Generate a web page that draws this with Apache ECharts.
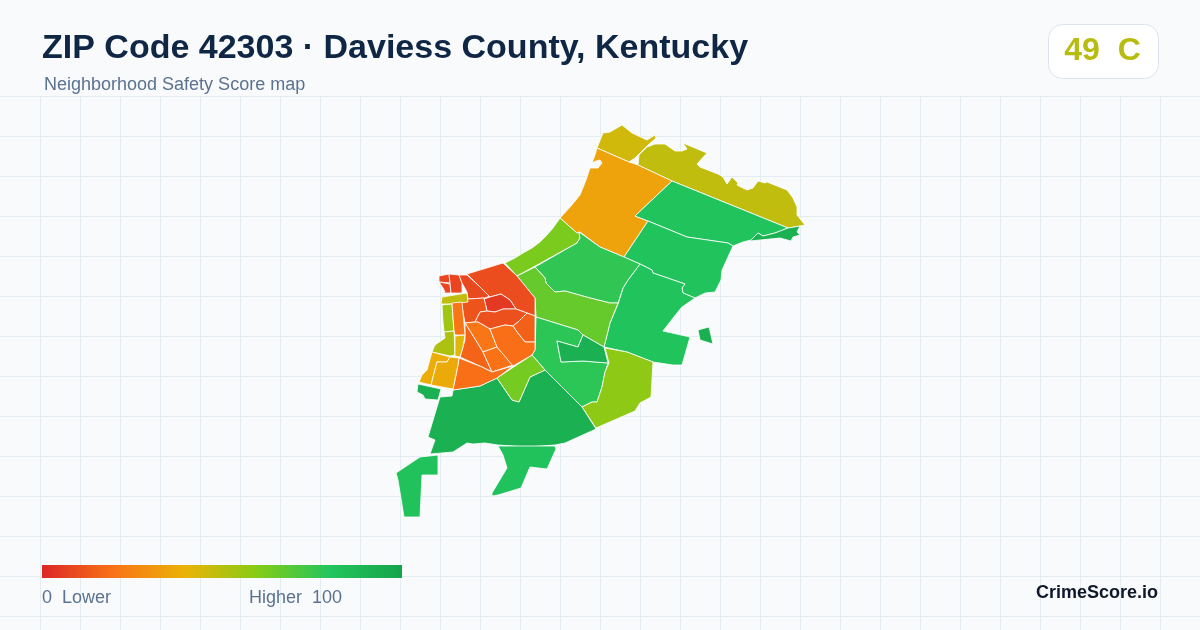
<!DOCTYPE html>
<html><head><meta charset="utf-8">
<style>html,body{margin:0;padding:0;background:#f8fafc}#c{width:1200px;height:630px}</style>
<script src="https://cdn.jsdelivr.net/npm/echarts@6/dist/echarts.min.js"></script>
</head><body><div id="c"></div>
<script>
const titleText = 'ZIP Code 42303 · Daviess County, Kentucky';
const subtitleText = 'Neighborhood Safety Score map';
const badgeText = '49  C';
const brandText = 'CrimeScore.io';
const scaleStops = ['#dc2626','#f97316','#eab308','#84cc16','#22c55e','#16a34a'];
const regionNames = ['A','B','C','D','E','F','G','H','I','J','K','L','M','N','O','P','Q','R','S',
  'T1a','T1b','T1c','T2','T3','T4','T5','T6','T7','U1','U2','U3','U4','U5','V1','V2','V3','V4','V5','V6','V7'];
const regionScores = [45,48,35,81,92,81,81,93,62,77,66,78,92,58,92,63,92,82,82,
  8,8,8,9,10,5,12,11,15,21,16,20,19,19,48,55,21,52,42,38,37];
const outlines = {
A:[[597,148],[603,133],[610,132],[622,125],[632,133],[647,140],[655,135],[656,138],[647,146],[635,158],[629,162]],
B:[[638,165],[639,155],[647,147],[655,144],[665,144],[675,151],[682,151],[687,149],[683,143],[707,153],[697,164],[700,167],[718,174],[723,177],[727,184],[732,177],[738,183],[737,185],[747,190],[753,188],[758,181],[765,183],[767,182],[787,190],[793,198],[797,207],[797,215],[805,225],[800,226],[788,228],[672,181]],
C:[[597,148],[629,162],[638,165],[672,181],[635,216],[648,221],[624,257],[600,247],[580,232],[577,233],[560,218],[571,206],[580,195],[586,180],[590,168],[598,168],[602,163],[600,160],[596,161],[592,163],[595,155]],
D:[[672,181],[788,228],[775,233],[763,236],[758,233],[751,240],[743,242],[733,246],[728,243],[687,237],[648,221],[635,216]],
E:[[788,228],[800,226],[797,232],[800,235],[793,237],[791,241],[780,238],[750,241],[758,233],[763,236],[775,233]],
F:[[648,221],[687,237],[728,243],[733,246],[728,257],[722,270],[721,280],[715,292],[705,293],[695,298],[683,293],[682,288],[685,284],[653,273],[652,270],[640,264],[624,257]],
G:[[640,264],[652,270],[653,273],[685,284],[682,288],[683,293],[695,298],[682,307],[677,313],[663,331],[690,337],[682,365],[673,365],[653,362],[627,352],[604,347],[610,323],[618,304],[623,288],[628,280]],
H:[[698,330],[709,327],[713,344],[700,340]],
I:[[505,263],[515,258],[523,253],[532,248],[540,242],[547,235],[553,228],[560,218],[577,233],[579,232],[580,238],[577,243],[517,276]],
J:[[535,267],[577,243],[580,238],[579,232],[600,247],[624,257],[640,264],[628,280],[623,288],[618,303],[610,303],[590,298],[565,291],[555,292],[546,283],[545,278]],
K:[[517,276],[535,267],[545,278],[546,283],[555,292],[565,291],[590,298],[610,303],[618,303],[610,323],[604,347],[583,335],[578,330],[536,317],[535,298]],
L:[[536,317],[578,330],[583,335],[578,347],[557,341],[561,362],[583,361],[608,363],[605,372],[602,387],[597,402],[592,402],[582,407],[545,370],[532,355],[535,350]],
M:[[557,341],[578,347],[583,335],[604,347],[608,363],[583,361],[561,362]],
N:[[605,348],[627,352],[653,362],[651,397],[640,403],[635,411],[596,428],[582,407],[592,402],[597,402],[602,387],[605,372],[609,363]],
O:[[440,397],[452,396],[453,390],[480,386],[497,378],[512,400],[519,402],[530,377],[545,370],[582,407],[596,429],[565,443],[555,445],[528,447],[498,445],[485,443],[473,444],[467,443],[453,452],[430,454],[435,440],[428,437]],
P:[[497,378],[532,355],[545,370],[530,377],[519,402],[512,400]],
Q:[[418,384],[441,389],[438,400],[425,399],[423,395],[417,392]],
R:[[498,446],[555,446],[556,449],[547,469],[530,467],[521,488],[498,495],[492,496],[492,493],[507,468],[503,455]],
S:[[396,473],[420,457],[438,455],[438,475],[422,475],[420,517],[404,517],[398,480]],
T1a:[[439,276],[449,274],[450,283],[439,282]],
T1b:[[439,282],[450,284],[451,293],[442,293],[445,292],[443,288]],
T1c:[[449,274],[459,275],[462,283],[462,293],[451,293],[450,283]],
T2:[[459,275],[467,275],[490,296],[485,298],[468,299],[467,292],[462,283]],
T3:[[467,274],[503,263],[517,276],[535,298],[535,316],[527,313],[516,309],[510,300],[501,294],[490,297]],
T4:[[484,299],[490,297],[501,294],[510,300],[516,309],[503,309],[495,312],[487,311]],
T5:[[461,302],[468,299],[484,298],[487,311],[480,312],[475,322],[465,323],[463,312]],
T6:[[487,311],[495,312],[503,309],[516,309],[527,313],[518,322],[513,326],[505,325],[490,329],[478,322],[475,322],[480,312]],
T7:[[527,313],[535,316],[535,342],[525,342],[517,332],[513,326],[518,322]],
U1:[[465,323],[475,322],[478,322],[490,329],[497,347],[483,352]],
U2:[[465,323],[483,352],[492,372],[482,367],[460,357],[465,340]],
U3:[[483,352],[497,347],[513,365],[492,372]],
U4:[[490,329],[505,325],[513,326],[517,332],[525,342],[535,342],[535,350],[532,355],[513,366],[497,347]],
U5:[[459,358],[482,367],[492,372],[513,366],[497,378],[480,386],[453,390],[458,365]],
V1:[[442,297],[467,293],[468,302],[452,304],[441,304]],
V2:[[442,305],[452,304],[454,331],[444,332],[443,322]],
V3:[[452,303],[462,302],[464,323],[465,335],[455,335],[454,331]],
V4:[[444,332],[454,331],[455,355],[450,356],[432,352],[435,345],[445,338]],
V5:[[455,336],[465,335],[463,347],[460,357],[455,356]],
V6:[[432,352],[450,357],[447,362],[437,362],[431,385],[419,382],[422,375],[427,370]],
V7:[[450,357],[459,358],[458,365],[453,389],[431,385],[437,362],[447,362]]
};
const geoJson = {type:'FeatureCollection',features:regionNames.map(n=>({
  type:'Feature',properties:{name:n},
  geometry:{type:'Polygon',coordinates:[[...outlines[n],outlines[n][0]]]}
}))};
echarts.registerMap('zip42303',geoJson);
const all = regionNames.flatMap(n=>outlines[n]);
const minX=Math.min(...all.map(p=>p[0])),maxX=Math.max(...all.map(p=>p[0]));
const minY=Math.min(...all.map(p=>p[1])),maxY=Math.max(...all.map(p=>p[1]));

const gridEls=[];
const gridColor='#e3ecf1';
for(let x=40;x<1200;x+=40) gridEls.push({type:'line',silent:true,z:-10,shape:{x1:x+.5,y1:97,x2:x+.5,y2:630},style:{stroke:gridColor,lineWidth:1}});
for(let y=96;y<630;y+=40) gridEls.push({type:'line',silent:true,z:-10,shape:{x1:0,y1:y+.5,x2:1200,y2:y+.5},style:{stroke:gridColor,lineWidth:1}});
const txt=(text,x,y,fs,fill,w,align)=>({type:'text',silent:true,z:5,x,y,style:{text,fontFamily:'"Liberation Sans",Arial,sans-serif',fontSize:fs,fontWeight:w||'normal',fill,textAlign:align||'left',textVerticalAlign:'middle'}});
const legendGradient=new echarts.graphic.LinearGradient(0,0,1,0,scaleStops.map((color,i)=>({offset:i/(scaleStops.length-1),color})));
const chart=echarts.init(document.getElementById('c'),null,{renderer:'canvas'});
chart.setOption({
  animation:false,
  backgroundColor:'#f8fafc',
  graphic:{elements:[...gridEls,
    txt(titleText,42,49,34,'#0f2744','bold'),
    txt(subtitleText,44,85.5,18,'#5b7290'),
    {type:'rect',silent:true,z:4,shape:{x:1048.5,y:24.5,width:110,height:54,r:14},style:{fill:'#ffffff',stroke:'#dde4ec',lineWidth:1}},
    txt(badgeText,1102.5,51,32,'#b8bc10','bold','center'),
    {type:'rect',silent:true,z:4,shape:{x:42,y:565,width:360,height:13},style:{fill:legendGradient}},
    txt('0  Lower',42,598,18,'#5b7290'),
    txt('Higher  100',249,598,18,'#5b7290'),
    txt(brandText,1158,593,18,'#0f172a','bold','right')
  ]},
  visualMap:{type:'continuous',show:false,seriesIndex:0,min:0,max:100,inRange:{color:scaleStops}},
  series:[{type:'map',map:'zip42303',silent:true,roam:false,
    projection:{project:p=>p,unproject:p=>p},
    left:minX,top:minY,width:maxX-minX,height:maxY-minY,
    label:{show:false},
    itemStyle:{borderColor:'#ffffff',borderWidth:0.8},
    emphasis:{disabled:true},select:{disabled:true},
    data:regionNames.map((n,i)=>({name:n,value:regionScores[i]}))
  }]
});
</script></body></html>
